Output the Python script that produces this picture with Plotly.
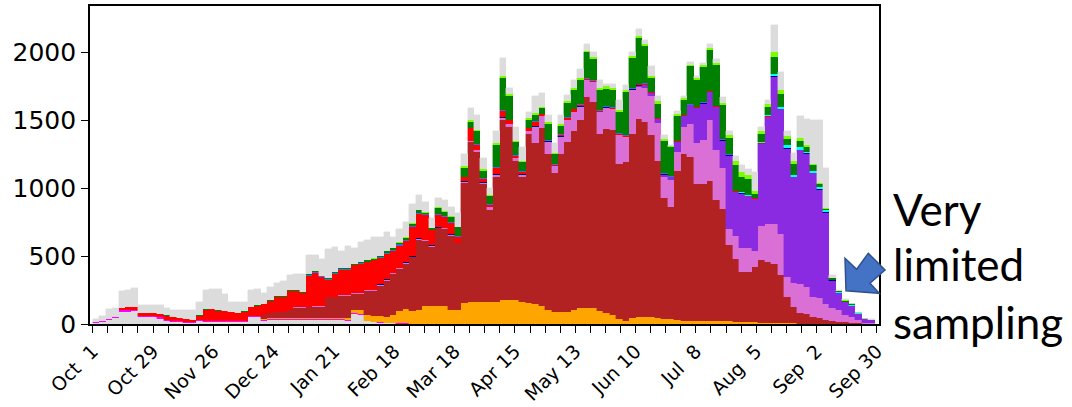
import pandas as pd
import plotly.graph_objects as go

# 3-day bins starting 2020-10-01
bin_start = pd.date_range("2020-10-01", periods=121, freq="3D")

grey_low = [8, 17, 27, 42, 90, 92, 95, 52, 52, 48,
            40, 20, 15, 12, 10, 5, 20, 17, 17, 15,
            15, 14, 14, 14, 50, 50, 25, 28, 30, 30,
            30, 30, 28, 28, 28, 28, 28, 28, 28, 25,
            75, 70, 20, 12, 10, 8, 5, 3, 2, 0] + [0] * 71

magenta = [8, 8, 8, 8, 10, 10, 10, 8, 8, 8] + [8] * 29 + [6,
           5, 5, 3, 3, 3, 3, 2, 2, 2, 2] + [2] * 31 + [0] * 40

orange = [0] * 26 + [5, 6, 8, 8,
          8, 8, 10, 10, 10, 10, 10, 10, 10, 12,
          25, 28, 40, 45, 45, 40, 60, 93, 107, 96,
          98, 128, 133, 133, 128, 98, 98, 153, 158, 158,
          158, 158, 163, 178, 178, 173, 163, 153, 148, 128,
          98, 86, 86, 84, 98, 116, 116, 116, 93, 78,
          68, 40, 25, 45, 49, 49, 49, 45, 40, 35,
          30, 25, 20, 20, 20, 22, 22, 22, 20, 18,
          15, 15, 12, 10, 10, 10, 8, 5, 5, 3,
          3, 2, 2, 1, 0, 0, 0, 0, 0, 0, 0]

firebrick = [0] * 26 + [30, 40, 45, 45,
             59, 72, 74, 77, 82, 82, 150, 151, 160, 166,
             117, 119, 183, 186, 225, 269, 302, 308, 332, 394,
             520, 480, 435, 570, 570, 550, 495, 885, 1180, 1110,
             870, 680, 915, 1325, 1270, 1025, 915, 1245, 1180, 1310,
             1154, 1022, 1162, 1254, 1320, 1382, 1554, 1517, 1305, 1358,
             1360, 1140, 1168, 1355, 1463, 1441, 1341, 1155, 890, 825,
             1100, 1225, 1210, 1013, 1013, 1028, 888, 828, 560, 462,
             370, 365, 408, 465, 450, 430, 352, 195, 120, 77,
             72, 48, 43, 29, 20, 15, 12, 10, 5, 3, 2]

orchid = [0] * 31 + [4, 4, 5, 4, 2, 4, 4, 4, 4,
          3, 3, 4, 5, 5, 5, 5, 5, 5, 5,
          5, 5, 5, 5, 5, 5, 3, 5, 5, 8,
          10, 20, 20, 15, 20, 20, 20, 20, 120, 90,
          86, 50, 130, 160, 140, 100, 123, 145, 160, 152,
          150, 210, 184, 320, 234, 250, 290, 280, 150, 200,
          140, 200, 240, 297, 319, 450, 369, 300, 120, 170,
          175, 180, 120, 245, 280, 300, 300, 145, 175, 215,
          200, 150, 145, 120, 100, 85, 58, 40, 25, 7, 6]

purple = [0] * 83 + [5, 10, 20, 20, 30, 20, 20,
          70, 80, 140, 260, 271, 209, 319, 200, 540, 320,
          399, 380, 380, 605, 785, 1080, 920, 945, 780, 985,
          980, 910, 800, 670, 200, 130, 90, 85, 45, 27, 24]

navy = [0] * 44 + [3, 4, 5, 5, 6, 6,
        6, 5, 5, 5, 5, 5, 2, 5, 5, 4,
        3, 3, 3, 5, 5, 5, 4, 5, 5, 5] + [5] * 12 + [3] * 20 + [
        3, 3, 3, 3, 3, 3, 3, 2, 2, 2,
        2, 2, 2, 1, 0, 0, 0, 0, 0, 0, 0]

red = [0, 0, 2, 5, 15, 20, 22, 20, 18, 22,
       26, 34, 25, 26, 22, 15, 33, 80, 85, 75,
       70, 64, 60, 70, 65, 77, 79, 90, 109, 109,
       135, 118, 104, 229, 245, 215, 126, 168, 189, 187,
       206, 218, 205, 217, 196, 188, 162, 162, 160, 211,
       179, 185, 110, 90, 77, 85, 40, 30, 90, 38,
       27, 17, 47, 45, 25, 15, 16, 15, 35, 10,
       5, 5, 10, 15, 15, 10, 5, 5, 5, 5,
       5, 5, 5, 5, 5, 5, 3, 3, 3, 3] + [3] * 10 + [2] * 13 + [1] + [0] * 7

cyan = [0] * 100 + [5, 5, 5, 10, 10, 15, 15, 20, 16, 16,
        11, 16, 16, 13, 5, 5, 5, 8, 3, 1, 0]

blue = [0] * 30 + [3, 3, 3, 4, 3, 5, 6, 5, 5, 5,
        5, 5, 5, 4, 5, 5, 6, 8, 8, 10,
        10] + [5] * 35 + [4] * 14 + [0] * 21

green = [0, 0, 0, 0, 0, 0, 0, 3, 3, 2,
         2, 2, 2, 0, 0, 0, 2, 3, 3, 3,
         3, 2, 2, 2, 3, 3, 3, 4, 5, 5,
         5, 6, 5, 6, 8, 5, 4, 6, 6, 5,
         6, 7, 8, 10, 10, 12, 12, 12, 14, 15,
         20, 10, 10, 45, 32, 40, 68, 65, 45, 95,
         55, 56, 165, 235, 175, 95, 65, 60, 45, 40,
         120, 75, 60, 105, 135, 180, 190, 160, 145, 129,
         125, 155, 319, 222, 336, 272, 100, 100, 240, 210,
         180, 110, 280, 195, 257, 296, 298, 250, 120, 190,
         116, 120, 30, 60, 60, 130, 95, 46, 80, 50,
         35, 40, 20, 10, 10, 5, 8, 2, 0, 0, 0]

lime = [0] * 33 + [2, 4, 0, 0, 2, 0, 2,
        2, 0, 0, 2, 0, 2, 0, 3, 3, 3,
        3, 3, 2, 10, 8, 5, 5, 10, 10, 10,
        8, 6, 10, 20, 15, 10, 8, 10, 15, 10,
        10, 8, 15, 15, 15, 15, 12, 15, 15, 16,
        20, 15, 16, 15, 15, 15, 20, 20, 10, 10,
        15, 15, 10, 15, 15, 15, 14, 20, 20, 30,
        35, 30, 20, 20, 20, 30, 30, 20, 20, 20,
        10, 10, 10, 5, 5, 5, 7, 0, 0, 0, 0]

grey_top = [24, 35, 73, 60, 125, 128, 135, 57, 57, 62,
            64, 51, 55, 54, 60, 77, 97, 142, 145, 154,
            124, 77, 76, 71, 124, 117, 75, 99, 95, 110,
            112, 121, 134, 136, 113, 125, 219, 184, 131, 166,
            117, 148, 152, 156, 138, 141, 81, 100, 111, 144,
            107, 77, 73, 65, 82, 65, 102, 90, 90, 110,
            82, 54, 90, 130, 45, 100, 102, 50, 125, 100,
            55, 72, 62, 45, 65, 65, 48, 30, 65, 20,
            30, 75, 35, 25, 50, 30, 70, 40, 30, 10,
            25, 15, 20, 20, 15, 30, 35, 40, 30, 40,
            50, 40, 140, 30, 30, 200, 130, 40, 60, 160,
            195, 320, 460, 300, 20, 5, 5, 5, 2, 2, 2]

tick_dates = pd.date_range("2020-10-01", periods=14, freq="28D")
tick_labels = ["Oct\u00a0\u00a01", "Oct 29", "Nov 26", "Dec 24", "Jan 21", "Feb 18",
               "Mar 18", "Apr 15", "May 13", "Jun 10", "Jul\u00a0\u00a08",
               "Aug\u00a0\u00a05", "Sep\u00a0\u00a02", "Sep 30"]
y_ticks = [0, 500, 1000, 1500, 2000]

layers = [
    ("grey_low", grey_low, "#dcdcdc"),
    ("magenta", magenta, "#ff00ff"),
    ("orange", orange, "#ffa500"),
    ("firebrick", firebrick, "#b22222"),
    ("orchid", orchid, "#da70d6"),
    ("purple", purple, "#8a2be2"),
    ("navy", navy, "#000080"),
    ("red", red, "#ff0000"),
    ("cyan", cyan, "#00ffff"),
    ("blue", blue, "#4169e1"),
    ("green", green, "#008000"),
    ("lime", lime, "#7cfc00"),
    ("grey_top", grey_top, "#dcdcdc"),
]

DAY_MS = 86400000
x_centres = bin_start + pd.Timedelta(hours=36)

fig = go.Figure()
for name, vals, col in layers:
    fig.add_trace(go.Bar(
        x=x_centres, y=vals, name=name, width=3 * DAY_MS,
        marker=dict(color=col, line=dict(color=col, width=0.4)),
        hoverinfo="x+y+name",
    ))

W, H = 1072, 407
L, R, T, B = 90, 193, 6, 83
PW, PH = W - L - R, H - T - B


def px(xp, yp):
    return (xp - L) / PW, (H - B - yp) / PH


fig.update_layout(
    width=W, height=H,
    margin=dict(l=L, r=R, t=T, b=B, pad=0, autoexpand=False),
    barmode="stack", bargap=0,
    plot_bgcolor="white", paper_bgcolor="white",
    showlegend=False,
    font=dict(family="DejaVu Sans", color="black"),
)
fig.update_xaxes(
    type="date", automargin=False,
    range=["2020-09-29 18:00", "2021-10-01 00:00"],
    tickvals=tick_dates, ticktext=tick_labels, tickangle=-45,
    ticks="outside", ticklen=7, tickwidth=1.4, tickcolor="black",
    tickfont=dict(size=19, family="DejaVu Sans"),
    showline=True, linewidth=1.6, linecolor="black", mirror=True,
    showgrid=False, zeroline=False,
    minor=dict(dtick=7 * DAY_MS, tick0="2020-10-01", ticks="outside",
               ticklen=7, tickwidth=1.4, tickcolor="black", showgrid=False),
)
fig.update_yaxes(
    automargin=False,
    range=[0, 2342], tickvals=y_ticks,
    ticks="outside", ticklen=7, tickwidth=1.4, tickcolor="black",
    tickfont=dict(size=25, family="DejaVu Sans"),
    showline=True, linewidth=1.6, linecolor="black", mirror=True,
    showgrid=False, zeroline=False,
)

# callout arrow pointing at the sparse tail of the series
arrow_pts = [(868.3, 253.3), (885, 270), (870, 283.3), (879.3, 293.3),
             (846, 290.7), (845, 258.3), (856.7, 269.3)]
path = "M " + " L ".join(f"{px(a, b)[0]:.4f},{px(a, b)[1]:.4f}" for a, b in arrow_pts) + " Z"
fig.add_shape(type="path", path=path, xref="paper", yref="paper",
              fillcolor="#4472c4", line=dict(color="#2f528f", width=1.5), layer="above")

for text, base in [("Very", 221.7), ("limited", 276.7), ("sampling", 335.0)]:
    xa, ya = px(891, base - 13)
    fig.add_annotation(text=text, x=xa, y=ya, xref="paper", yref="paper",
                       xanchor="left", yanchor="middle", showarrow=False,
                       font=dict(family="Lato", size=44, color="black"))

fig.write_html("out.html")
